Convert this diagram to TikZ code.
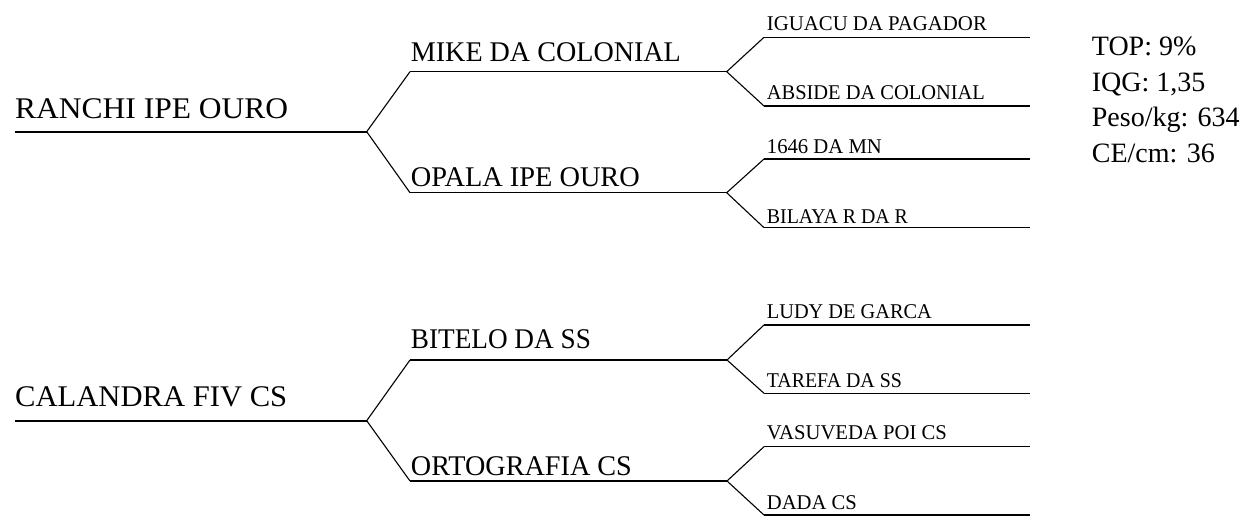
\documentclass[tikz,border=0pt]{standalone}
\usepackage{fontspec}
\usepackage{graphicx}
\setmainfont{Liberation Serif}
\newcommand{\fitlab}[2]{\resizebox{#1pt}{\height}{#2}}
\begin{document}
\begin{tikzpicture}[x=1pt,y=-1pt,
  rootline/.style={line width=1.7pt},
  midline/.style={line width=1.6pt},
  leafline/.style={line width=1.2pt},
  diag/.style={line width=1.1pt},
  rootlab/.style={anchor=base west,inner sep=0pt,font=\fontsize{30}{36}\selectfont},
  midlab/.style={anchor=base west,inner sep=0pt,font=\fontsize{28.5}{34}\selectfont},
  leaflab/.style={anchor=base west,inner sep=0pt,font=\fontsize{21}{25}\selectfont},
  infolab/.style={anchor=base west,inner sep=0pt,font=\fontsize{28}{34}\selectfont}]
\useasboundingbox (0,0) rectangle (1243,518);

% ---------- top group ----------
\coordinate (r1s) at (15,131.7);
\coordinate (r1f) at (366.7,131.7);
\coordinate (a1s) at (410,71.7);  \coordinate (a1f) at (726.7,71.7);
\coordinate (a2s) at (410,192.7); \coordinate (a2f) at (726.7,192.7);
\coordinate (l1s) at (764,37.3);  \coordinate (l1e) at (1030,37.3);
\coordinate (l2s) at (764,106);   \coordinate (l2e) at (1030,106);
\coordinate (l3s) at (764,159);   \coordinate (l3e) at (1030,159);
\coordinate (l4s) at (764,227.7); \coordinate (l4e) at (1030,227.7);

\draw[rootline] (r1s) -- (r1f);
\draw[diag] (a1s) -- (r1f) -- (a2s);
\draw[midline] (a1s) -- (a1f);
\draw[midline] (a2s) -- (a2f);
\draw[diag] (l1s) -- (a1f) -- (l2s);
\draw[diag] (l3s) -- (a2f) -- (l4s);
\draw[leafline] (l1s) -- (l1e);
\draw[leafline] (l2s) -- (l2e);
\draw[leafline] (l3s) -- (l3e);
\draw[leafline] (l4s) -- (l4e);

\node[rootlab] (t1) at (15,118.3) {\fitlab{273}{RANCHI IPE OURO}};
\node[midlab] (t2) at (410.7,61.7) {\fitlab{270}{MIKE DA COLONIAL}};
\node[midlab] (t3) at (410.7,186.7) {\fitlab{229}{OPALA IPE OURO}};
\node[leaflab] (t4) at (766.7,30.7) {\fitlab{220}{IGUACU DA PAGADOR}};
\node[leaflab] (t5) at (766.7,100) {\fitlab{218}{ABSIDE DA COLONIAL}};
\node[leaflab] (t6) at (766.7,154) {\fitlab{115}{1646 DA MN}};
\node[leaflab] (t7) at (766.7,223.3) {\fitlab{141}{BILAYA R DA R}};

\node[infolab] (i1) at (1091.7,56) {TOP: 9\%};
\node[infolab] (i2) at (1091.7,91.5) {IQG: 1,35};
\node[infolab] (i3) at (1091.7,127) {Peso/kg: 634};
\node[infolab] (i4) at (1091.7,162.5) {CE/cm: 36};

% ---------- bottom group ----------
\coordinate (r2s) at (15,420.7);
\coordinate (r2f) at (366.7,420.7);
\coordinate (b1s) at (410,360);   \coordinate (b1f) at (727,360);
\coordinate (b2s) at (410,481);   \coordinate (b2f) at (727,481);
\coordinate (m1s) at (764,325);   \coordinate (m1e) at (1030,325);
\coordinate (m2s) at (764,393.3); \coordinate (m2e) at (1030,393.3);
\coordinate (m3s) at (764,446.7); \coordinate (m3e) at (1030,446.7);
\coordinate (m4s) at (764,515);   \coordinate (m4e) at (1030,515);

\draw[rootline] (r2s) -- (r2f);
\draw[diag] (b1s) -- (r2f) -- (b2s);
\draw[midline] (b1s) -- (b1f);
\draw[midline] (b2s) -- (b2f);
\draw[diag] (m1s) -- (b1f) -- (m2s);
\draw[diag] (m3s) -- (b2f) -- (m4s);
\draw[leafline] (m1s) -- (m1e);
\draw[leafline] (m2s) -- (m2e);
\draw[leafline] (m3s) -- (m3e);
\draw[leafline] (m4s) -- (m4e);

\node[rootlab] (u1) at (15,406.7) {\fitlab{272}{CALANDRA FIV CS}};
\node[midlab] (u2) at (410.7,349) {\fitlab{180}{BITELO DA SS}};
\node[midlab] (u3) at (410.7,475.7) {\fitlab{221}{ORTOGRAFIA CS}};
\node[leaflab] (u4) at (766.7,318.3) {\fitlab{165}{LUDY DE GARCA}};
\node[leaflab] (u5) at (766.7,387.7) {\fitlab{135}{TAREFA DA SS}};
\node[leaflab] (u6) at (766.7,440) {\fitlab{180}{VASUVEDA POI CS}};
\node[leaflab] (u7) at (766.7,510) {\fitlab{90}{DADA CS}};
\end{tikzpicture}
\end{document}
